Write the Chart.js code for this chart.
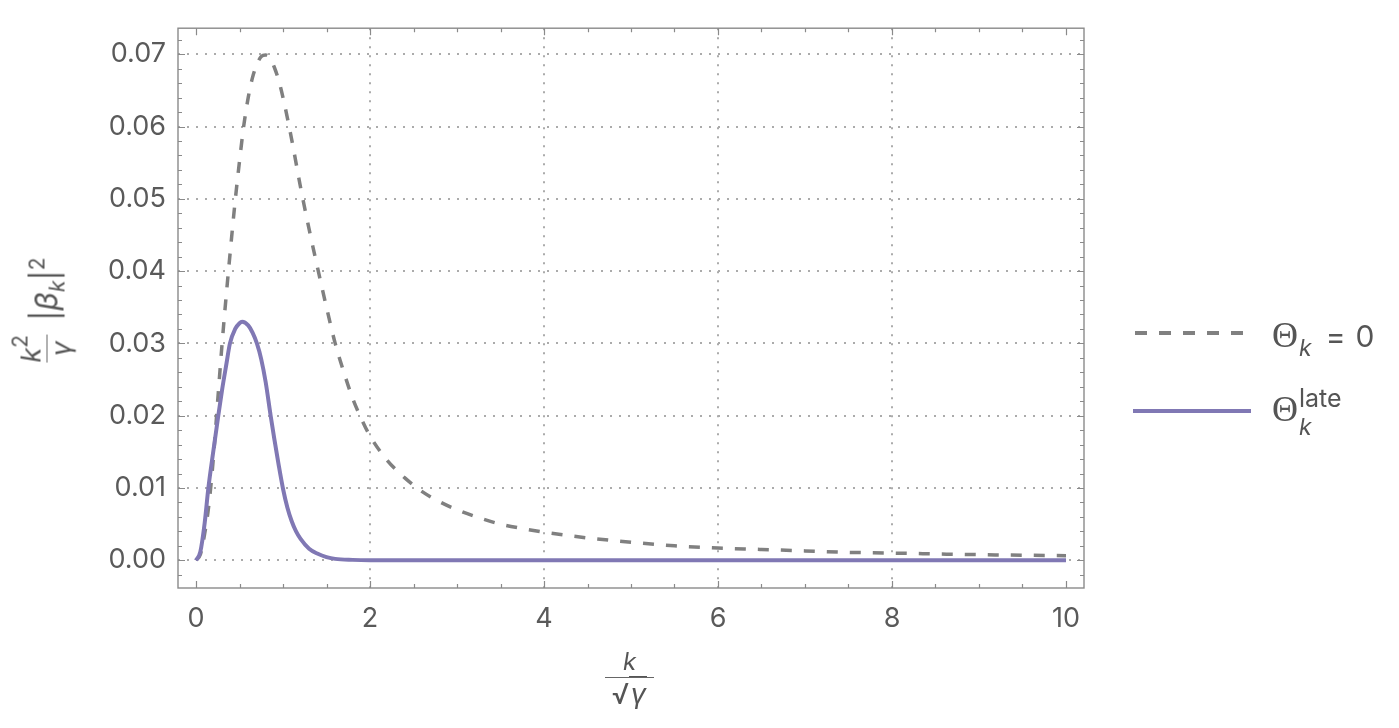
<!DOCTYPE html>
<html>
<head>
<meta charset="utf-8">
<script src="https://cdn.jsdelivr.net/npm/chart.js@4.4.1/dist/chart.umd.min.js"></script>
<style>
  body { margin: 0; background: #fff; }
  #wrap { position: relative; width: 1399px; height: 728px; }
  #wrap canvas { position: absolute; left: 0; top: 0; }
  .math { position: absolute; color: #555; font-family: Inter, "Open Sans", sans-serif; white-space: nowrap; line-height: 1; }
  .math i { font-style: italic; }
  .frac { display: inline-flex; flex-direction: column; align-items: center; vertical-align: middle; }
  .frac .bar { display: block; width: 100%; border-top: 1.6px solid #666; }
  .th { font-family: "Liberation Serif", "DejaVu Serif", serif; }
  .rad { border-top: 1.5px solid #555; padding: 0 1px; }
  #xtitle { left: 605px; top: 650px; width: 49px; }
  #xtitle .num { font-size: 24px; padding-bottom: 3px; }
  #xtitle .den { font-size: 28px; padding-top: 2px; }
  #ytitle { left: 46px; top: 310px; transform: translate(-50%, -50%) rotate(-90deg); font-size: 31px; display: flex; align-items: center; }
  #ytitle .frac { font-size: 27px; margin-right: 14px; }
  #ytitle .frac .num { padding-bottom: 2px; }
  #ytitle sup { font-size: 21px; position: relative; top: -13px; vertical-align: baseline; }
  #ytitle sub { font-size: 21px; position: relative; top: 7px; vertical-align: baseline; }
  .leglab { position: absolute; left: 1272px; font-size: 30px; color: #555; font-family: Inter, "Open Sans", sans-serif; white-space: nowrap; line-height: 1; }
  .leglab .th { font-size: 36px; }
  .leglab .sb { font-size: 23px; font-style: italic; position: relative; vertical-align: baseline; margin-left: 1px; }
  .leglab .sp { font-size: 25px; position: absolute; }
  .leglab .eq { margin: 0 10px 0 14px; }
  .legline { position: absolute; }
</style>
</head>
<body>
<div id="wrap">
  <canvas id="grafica" width="1399" height="728"></canvas>
  <div id="xtitle" class="math frac">
    <span class="num"><i>k</i></span>
    <span class="bar"></span>
    <span class="den">√<span class="rad"><i>γ</i></span></span>
  </div>
  <div id="ytitle" class="math">
    <span class="frac"><span class="num"><i>k</i><sup>2</sup></span><span class="bar"></span><span class="den"><i>γ</i></span></span>
    <span>|<i>β</i><sub><i>k</i></sub>|<sup>2</sup></span>
  </div>
  <svg class="legline" style="left:1135px;top:328px" width="110" height="10">
    <line x1="0" y1="5" x2="108" y2="5" stroke="#808080" stroke-width="4" stroke-dasharray="12 12"/>
  </svg>
  <div class="leglab" style="top:317px"><span class="th">Θ</span><span class="sb" style="top:9px">k</span><span class="eq">=</span>0</div>
  <svg class="legline" style="left:1133px;top:406px" width="120" height="10">
    <line x1="0" y1="5" x2="118" y2="5" stroke="#8078b4" stroke-width="4"/>
  </svg>
  <div class="leglab" style="top:391px"><span class="th">Θ</span><span class="sb" style="top:14px">k</span><span class="sp" style="left:27px;top:-5px">late</span></div>
</div>
<script>
// valores
const xTicks = [0, 2, 4, 6, 8, 10];
const yTicks = [0, 0.01, 0.02, 0.03, 0.04, 0.05, 0.06, 0.07];

// Θk = 0 (línea discontinua)
const kCero = [0, 0.05, 0.1, 0.15, 0.2, 0.25, 0.3, 0.35, 0.4, 0.45, 0.5, 0.55, 0.6, 0.65, 0.7, 0.75, 0.8, 0.85, 0.9, 0.95,
  1.0, 1.1, 1.2, 1.3, 1.4, 1.5, 1.6, 1.7, 1.8, 1.9, 2.0, 2.2, 2.4, 2.6, 2.8, 3.0, 3.25, 3.5, 3.75, 4.0,
  4.5, 5.0, 5.5, 6.0, 6.5, 7.0, 7.5, 8.0, 8.5, 9.0, 9.5, 10.0];
const betaCero = [0, 0.0008, 0.0037, 0.0079, 0.0142, 0.0222, 0.0300, 0.0370, 0.0435, 0.0497, 0.0552, 0.0602, 0.0640, 0.0668, 0.0686, 0.0697, 0.0699, 0.0695, 0.0682, 0.0664,
  0.0640, 0.0582, 0.0517, 0.0458, 0.0403, 0.0350, 0.0300, 0.0260, 0.0224, 0.0196, 0.0172, 0.0138, 0.0114, 0.0095, 0.0081, 0.0070, 0.0059, 0.0050, 0.0044, 0.0039,
  0.0031, 0.0025, 0.0020, 0.0017, 0.0015, 0.0013, 0.0011, 0.0010, 0.00088, 0.00078, 0.00070, 0.00064];

// Θk late (línea continua)
const kLate = [0, 0.05, 0.1, 0.142, 0.2, 0.256, 0.3, 0.35, 0.39, 0.45, 0.5, 0.53, 0.6, 0.65, 0.7, 0.75, 0.8, 0.858, 0.9, 0.95,
  1.0, 1.05, 1.1, 1.15, 1.2, 1.3, 1.4, 1.5, 1.6, 1.8, 2.0, 2.5, 3, 4, 5, 6, 7, 8, 9, 10];
const betaLate = [0, 0.0012, 0.0052, 0.0100, 0.0152, 0.0200, 0.0236, 0.0272, 0.0300, 0.0320, 0.0328, 0.0330, 0.0325, 0.0315, 0.0300, 0.0278, 0.0247, 0.0200, 0.0168, 0.0132,
  0.0099, 0.0073, 0.0054, 0.0040, 0.0030, 0.0016, 0.0009, 0.00045, 0.0002, 0.00006, 0.00001, 0, 0, 0, 0, 0, 0, 0, 0, 0];

// marcas menores del marco
const xMinor = [];
for (let i = 0; i <= 20; i++) xMinor.push(i * 0.5);
const yMinor = [];
for (let i = -1; i <= 36; i++) yMinor.push(i * 0.002);

const gris = '#5a5a5a';

const marco = {
  id: 'marco',
  afterDraw(chart) {
    const {ctx, chartArea: a, scales: {x, y}} = chart;
    ctx.save();
    ctx.strokeStyle = '#8a8a8a';
    ctx.lineWidth = 1.4;
    ctx.strokeRect(a.left, a.top, a.right - a.left, a.bottom - a.top);
    ctx.lineWidth = 1.2;
    ctx.beginPath();
    xMinor.forEach(v => {
      const px = Math.round(x.getPixelForValue(v)) + 0.5;
      const len = xTicks.includes(v) ? 7 : 4;
      ctx.moveTo(px, a.bottom); ctx.lineTo(px, a.bottom - len);
      ctx.moveTo(px, a.top); ctx.lineTo(px, a.top + len);
    });
    yMinor.forEach(v => {
      const py = Math.round(y.getPixelForValue(v)) + 0.5;
      const mayor = Math.abs(v / 0.01 - Math.round(v / 0.01)) < 1e-6;
      const len = mayor ? 7 : 4;
      ctx.moveTo(a.left, py); ctx.lineTo(a.left + len, py);
      ctx.moveTo(a.right, py); ctx.lineTo(a.right - len, py);
    });
    ctx.stroke();
    ctx.restore();
  }
};

const ctx = document.getElementById("grafica").getContext("2d");
const grafica = new Chart(ctx, {
  type: 'line',
  data: {
    datasets: [{
      label: 'Θk = 0',
      data: kCero.map((k, i) => ({x: k, y: betaCero[i]})),
      borderColor: '#808080',
      borderWidth: 3.5,
      borderDash: [11, 12],
      pointRadius: 0,
      cubicInterpolationMode: 'monotone',
      order: 1
    }, {
      label: 'Θk late',
      data: kLate.map((k, i) => ({x: k, y: betaLate[i]})),
      borderColor: '#8078b4',
      borderWidth: 4,
      pointRadius: 0,
      cubicInterpolationMode: 'monotone',
      order: 0
    }]
  },
  options: {
    responsive: false,
    animation: false,
    layout: { padding: { left: 0, top: 28, right: 315, bottom: 0 } },
    plugins: { legend: { display: false }, tooltip: { enabled: false } },
    scales: {
      x: {
        type: 'linear',
        min: -0.207,
        max: 10.207,
        afterBuildTicks: s => { s.ticks = xTicks.map(v => ({value: v})); },
        afterFit: s => { s.height = 140; },
        ticks: {
          callback: v => String(v),
          color: gris,
          font: { family: 'Inter', size: 27 },
          padding: 15,
          maxRotation: 0,
          autoSkip: false
        },
        grid: {
          drawTicks: false,
          lineWidth: 2,
          color: c => (c.tick && (c.tick.value === 0 || c.tick.value === 10)) ? 'rgba(0,0,0,0)' : '#ababab'
        },
        border: { display: false, dash: [2, 7] }
      },
      y: {
        type: 'linear',
        min: -0.00383,
        max: 0.0736,
        afterBuildTicks: s => { s.ticks = yTicks.map(v => ({value: v})); },
        afterFit: s => { s.width = 178; },
        ticks: {
          callback: v => v.toFixed(2),
          color: gris,
          font: { family: 'Inter', size: 27 },
          padding: 12
        },
        grid: { drawTicks: false, lineWidth: 2, color: '#ababab' },
        border: { display: false, dash: [2, 7] }
      }
    }
  },
  plugins: [marco]
});
</script>
</body>
</html>
